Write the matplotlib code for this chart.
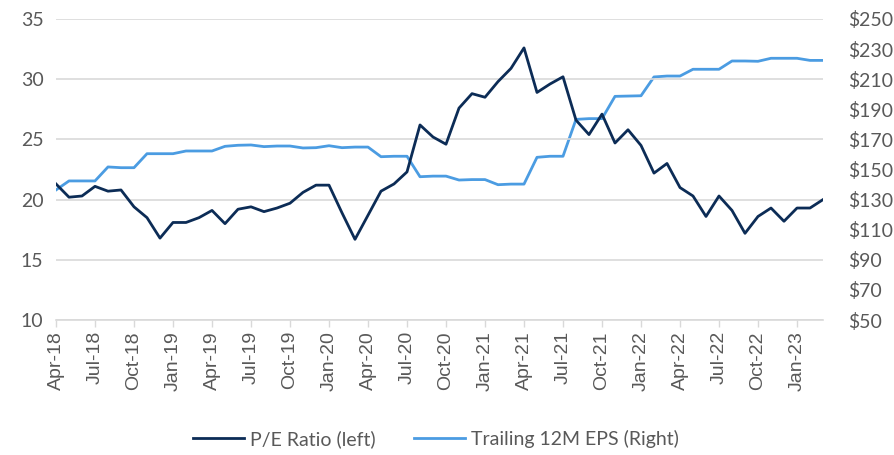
import pandas as pd, matplotlib.pyplot as plt
from matplotlib.ticker import FixedLocator

# monthly data Apr-18 .. Mar-23
months = pd.date_range('2018-04-01', '2023-03-01', freq='MS')
pe_ratio = [21.3, 20.2, 20.3, 21.1, 20.7, 20.8, 19.4, 18.5, 16.8, 18.1,
            18.1, 18.5, 19.1, 18.0, 19.2, 19.4, 19.0, 19.3, 19.7, 20.6,
            21.2, 21.2, 18.9, 16.7, 18.7, 20.7, 21.3, 22.3, 26.2, 25.2,
            24.6, 27.6, 28.8, 28.5, 29.8, 30.9, 32.6, 28.9, 29.6, 30.2,
            26.6, 25.4, 27.1, 24.7, 25.8, 24.5, 22.2, 23.0, 21.0, 20.3,
            18.6, 20.3, 19.1, 17.2, 18.6, 19.3, 18.2, 19.3, 19.3, 20.0]
eps_12m = [136.4, 142.4, 142.4, 142.4, 151.7, 151.2, 151.2, 160.5, 160.5, 160.5,
           162.3, 162.3, 162.3, 165.4, 166.1, 166.3, 165.2, 165.6, 165.6, 164.3,
           164.5, 165.8, 164.5, 164.9, 164.9, 158.5, 158.8, 158.8, 145.2, 145.6,
           145.6, 143.0, 143.3, 143.3, 139.9, 140.3, 140.3, 158.1, 158.8, 158.8,
           183.3, 183.8, 183.8, 198.6, 198.8, 199.0, 211.5, 212.1, 212.1, 216.6,
           216.6, 216.6, 222.1, 222.1, 221.9, 223.9, 223.9, 223.9, 222.5, 222.5]
left_ticks = [10, 15, 20, 25, 30, 35]
right_ticks = list(range(50, 251, 20))

txt = '#595959'
dark = '#0C2C56'
light = '#4B9CE2'

fig = plt.figure(figsize=(8.95, 4.55), dpi=100)
ax = fig.add_axes([56/895, 1-320/455, (823-56)/895, (320-19)/455])
ax2 = ax.twinx()

x = list(range(len(months)))
l1, = ax.plot(x, pe_ratio, color=dark, lw=2.0, label='P/E Ratio (left)', zorder=3)
l2, = ax2.plot(x, eps_12m, color=light, lw=2.0, label='Trailing 12M EPS (Right)')
ax.set_zorder(ax2.get_zorder() + 1)
ax.patch.set_visible(False)

ax.set_xlim(0, len(months) - 1)
ax.set_ylim(10, 35)
ax2.set_ylim(50, 250)

ax.yaxis.set_major_locator(FixedLocator(left_ticks))
ax2.yaxis.set_major_locator(FixedLocator(right_ticks))
ax.set_yticklabels([str(t) for t in left_ticks], family='Lato', fontsize=14, color=txt)
ax2.set_yticklabels(['$' + str(t) for t in right_ticks], family='Lato', fontsize=14, color=txt)

tick_pos = x[::3]
ax.xaxis.set_major_locator(FixedLocator(tick_pos))
ax.set_xticklabels([months[i].strftime('%b-%y') for i in tick_pos], rotation=90,
                   family='Liberation Sans', fontsize=14, color=txt)

ax.grid(axis='y', color='#d9d9d9', lw=1.2)
ax.set_axisbelow(True)
for a in (ax, ax2):
    for s in a.spines.values():
        s.set_visible(False)
ax.spines['bottom'].set_visible(True)
ax.spines['bottom'].set_color('#d9d9d9')
ax.spines['bottom'].set_linewidth(1.2)
ax.tick_params(axis='x', length=5, color='#d9d9d9', width=1, pad=3)
ax.tick_params(axis='y', length=0, pad=9)
ax2.tick_params(axis='y', length=0, pad=18)

fig.legend(handles=[l1, l2], loc='center', bbox_to_anchor=(0.487, 0.035), ncol=2,
           frameon=False, prop={'family': 'Lato', 'size': 14}, labelcolor=txt,
           handlelength=2.6, handletextpad=0.3, columnspacing=2.0)

plt.savefig('out.png', dpi=100)
